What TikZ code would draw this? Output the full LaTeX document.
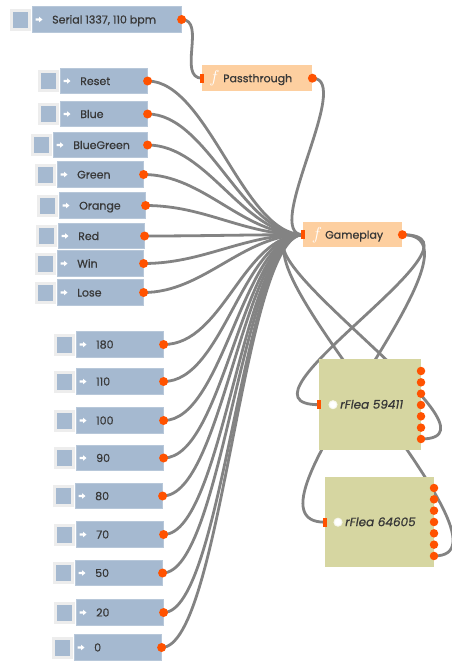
\documentclass[tikz,border=0pt]{standalone}
\usepackage{fontspec}
\setmainfont{Poppins}[FakeBold=0.7]
\definecolor{boxblue}{HTML}{A5B9D0}
\definecolor{cbgrey}{HTML}{EDEDED}
\definecolor{peach}{HTML}{FDCFA0}
\definecolor{khaki}{HTML}{D6D6A1}
\definecolor{dotor}{HTML}{FF5200}
\definecolor{wirec}{HTML}{838383}
\definecolor{txt}{HTML}{383838}
\pgfdeclarelayer{bg}
\pgfsetlayers{bg,main}
\tikzset{
  valbox/.style={fill=boxblue, draw=boxblue!80!white, line width=0.6pt, minimum height=25.5pt, inner sep=0, anchor=west},
  cbout/.style={fill=cbgrey, minimum width=21pt, minimum height=22pt, inner sep=0},
  cbin/.style={fill=boxblue, minimum width=15pt, minimum height=16pt, inner sep=0},
  lbl/.style={anchor=base west, inner sep=0, text=txt, font=\fontsize{11}{12}\selectfont},
  odot/.style={circle, fill=dotor, minimum size=9pt, inner sep=0},
  iport/.style={fill=dotor, minimum width=4pt, minimum height=9pt, inner sep=0},
  wire/.style={draw=wirec, line width=2.8pt},
  fnbox/.style={fill=peach, inner sep=0, anchor=north west},
  fleabox/.style={fill=khaki, inner sep=0, anchor=north west},
  fsym/.style={inner sep=0, text=white, font=\fontsize{16}{16}\selectfont},
  ficon/.style={circle, fill=white, draw=white!80!khaki, line width=1pt, minimum size=8pt, inner sep=0},
  warrow/.pic={\fill[white] (-3.5,-1.1) -- (0,-1.1) -- (0,-2.8) -- (3.5,0) -- (0,2.8) -- (0,1.1) -- (-3.5,1.1) -- cycle;}
}
\newcommand\inport[5]{%
  \node[valbox, minimum width={#3-#2}] (#1) at (#2,#4) {};
  \node[cbout, anchor=east] (#1-cb) at ([xshift=-1pt]#1.west) {};
  \node[cbin] (#1-cbi) at (#1-cb) {};
  \pic at ([xshift=7pt]#1.west) {warrow};
  \node[lbl] (#1-t) at ([xshift=20pt,yshift=-4pt]#1.west) {#5};
  \node[odot] (#1-o) at (#1.east) {};
}
\begin{document}
\begin{tikzpicture}[x=1pt,y=-1pt]
\useasboundingbox (0,0) rectangle (452,662);
% value inputs
\inport{serial}{32}{181}{19.5}{Serial 1337, 110 bpm}
\inport{reset}{60}{147}{81}{Reset}
\inport{blue}{60}{147}{114}{Blue}
\inport{bluegreen}{53}{147}{145}{BlueGreen}
\inport{green}{57}{143}{174.5}{Green}
\inport{orange}{59}{145}{205.5}{Orange}
\inport{red}{58}{144}{236}{Red}
\inport{win}{57}{143}{263.5}{Win}
\inport{lose}{57}{143}{292.5}{Lose}
\inport{v180}{76}{163}{344.5}{180}
\inport{v110}{76}{163}{381.5}{110}
\inport{v100}{76}{163}{420.5}{100}
\inport{v90}{76}{163}{458}{90}
\inport{v80}{75}{162}{496}{80}
\inport{v70}{76}{163}{534.5}{70}
\inport{v50}{75}{162}{573}{50}
\inport{v20}{76}{163}{612.5}{20}
\inport{v0}{74}{161}{647.5}{0}
% functions
\node[fnbox, minimum width=110pt, minimum height=26pt] (pass) at (202,65) {};
\node[iport] (pass-i) at (pass.west) {};
\node[odot] (pass-o) at (pass.east) {};
\node[fsym] (pass-f) at ([xshift=12.5pt]pass.west) {$f$};
\node[lbl] (pass-t) at ([xshift=21pt,yshift=-4pt]pass.west) {Passthrough};
\node[fnbox, minimum width=99pt, minimum height=25pt] (gp) at (303,222) {};
\node[iport] (gp-i) at (gp.west) {};
\node[odot] (gp-o) at (gp.east) {};
\node[fsym] (gp-f) at ([xshift=14pt]gp.west) {$f$};
\node[lbl] (gp-t) at ([xshift=22pt,yshift=-4pt]gp.west) {Gameplay};
% rFlea devices
\node[fleabox, minimum width=102pt, minimum height=91pt] (fa) at (319,359) {};
\node[iport] (fa-i) at (fa.west) {};
\node[ficon] (fa-ic) at ([xshift=14pt]fa.west) {};
\node[lbl, font=\fontsize{12}{13}\selectfont\itshape] (fa-t) at ([xshift=21pt,yshift=-4pt]fa.west) {rFlea 59411};
\foreach \k in {1,...,7} \node[odot, minimum size=8.5pt] (fa-o\k) at (421,{371+11.33*(\k-1)}) {};
\node[fleabox, minimum width=109pt, minimum height=90pt] (fb) at (325,477) {};
\node[iport] (fb-i) at (fb.west) {};
\node[ficon] (fb-ic) at ([xshift=13pt]fb.west) {};
\node[lbl, font=\fontsize{12}{13}\selectfont\itshape] (fb-t) at ([xshift=20pt,yshift=-4pt]fb.west) {rFlea 64605};
\foreach \k in {1,...,7} \node[odot, minimum size=8.5pt] (fb-o\k) at (434,{488+11.33*(\k-1)}) {};
% wires
\begin{pgfonlayer}{bg}
\draw[wire] (serial-o.center) .. controls +(25,0) and +(-25,0) .. (pass-i.center);
\draw[wire] (pass-o.center) .. controls +(42,0) and +(-42,0) .. (gp-i.center);
\foreach \n in {reset,blue,bluegreen,green,orange,red,win,lose,v180,v110,v100,v90,v80,v70,v50,v20,v0}
  \draw[wire] (\n-o.center) .. controls +(60,0) and +(-60,0) .. (gp-i.center);
\draw[wire] (gp-o.center) .. controls +(100,0) and +(-100,0) .. (fa-i.center);
\draw[wire] (gp-o.center) .. controls +(100,0) and +(-100,0) .. (fb-i.center);
\draw[wire] (fa-o7.center) .. controls +(100,0) and +(-100,0) .. (gp-i.center);
\draw[wire] (fb-o7.center) .. controls +(100,0) and +(-100,0) .. (gp-i.center);
\end{pgfonlayer}
\end{tikzpicture}
\end{document}
